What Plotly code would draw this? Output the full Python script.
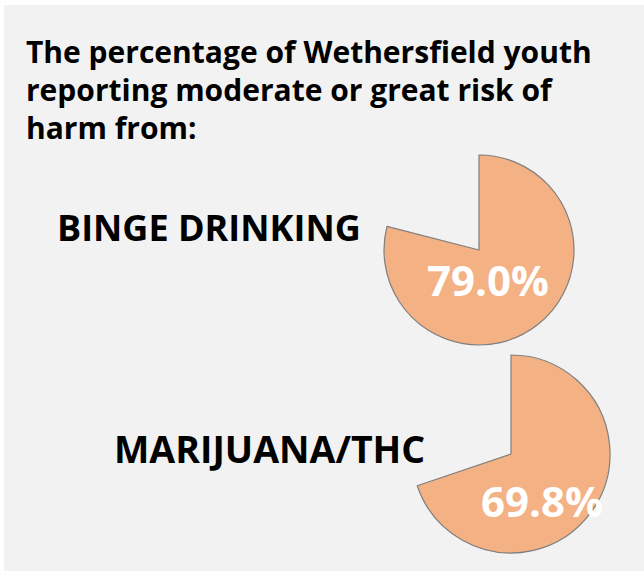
import plotly.graph_objects as go

# Data
categories = ["BINGE DRINKING", "MARIJUANA/THC"]
values = [79.0, 69.8]
title_lines = ["The percentage of Wethersfield youth",
               "reporting moderate or great risk of",
               "harm from:"]

W, H = 644, 571
FILL = "#f4b183"
EDGE = "#7f7f7f"
BG = "#f2f2f2"
FONT = "Open Sans"

# layout geometry (pixels): pie centers/radii, label positions
pie_geom = [(479, 250, 95), (511, 454, 99)]
label_pos = [(209, 228), (269, 448)]
label_sizes = [36, 37.5]
pct_pos = [(488, 279), (542, 500)]
title_baselines = [64, 102, 140]

def px(x):
    return x / W

def py(y):
    return 1 - y / H

fig = go.Figure()
for (cx, cy, r), v in zip(pie_geom, values):
    fig.add_trace(go.Pie(
        values=[v, 100 - v],
        sort=False,
        direction="clockwise",
        rotation=0,
        marker=dict(colors=[FILL, "rgba(0,0,0,0)"],
                    line=dict(color=[EDGE, "rgba(0,0,0,0)"], width=[1.2, 0])),
        textinfo="none",
        hoverinfo="skip",
        showlegend=False,
        domain=dict(x=[px(cx - r), px(cx + r)], y=[py(cy + r), py(cy - r)]),
    ))

annotations = []
for line, b in zip(title_lines, title_baselines):
    annotations.append(dict(
        text=f"<b>{line}</b>", x=px(24), y=py(b + 10), xref="paper", yref="paper",
        xanchor="left", yanchor="bottom", showarrow=False,
        font=dict(family=FONT, size=30, color="black"),
    ))
for (lx, ly), c, s in zip(label_pos, categories, label_sizes):
    annotations.append(dict(
        text=f"<b>{c}</b>", x=px(lx), y=py(ly), xref="paper", yref="paper",
        xanchor="center", yanchor="middle", showarrow=False,
        font=dict(family=FONT, size=s, color="black"),
    ))
for (tx, ty), v in zip(pct_pos, values):
    annotations.append(dict(
        text=f"<b>{v:.1f}%</b>", x=px(tx), y=py(ty), xref="paper", yref="paper",
        xanchor="center", yanchor="middle", showarrow=False,
        font=dict(family=FONT, size=42, color="white"),
    ))

fig.update_layout(
    width=W, height=H,
    margin=dict(l=0, r=0, t=0, b=0),
    paper_bgcolor="white",
    plot_bgcolor="white",
    annotations=annotations,
    shapes=[dict(type="rect", xref="paper", yref="paper", x0=px(4), x1=1, y0=0, y1=py(5),
                 fillcolor=BG, line=dict(width=0), layer="below")],
)
fig.write_html("out.html", config={"displayModeBar": False},
               post_script="document.body.style.margin='0';")
